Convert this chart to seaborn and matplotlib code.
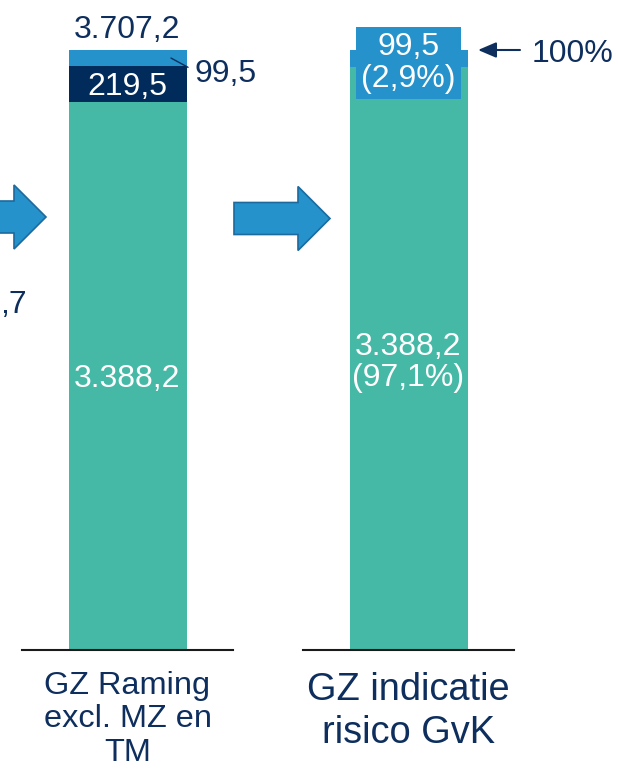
import matplotlib
matplotlib.use("Agg")
import matplotlib.pyplot as plt
from matplotlib.patches import FancyArrow
import pandas as pd
import seaborn as sns

# data
categories = ["GZ Raming\nexcl. MZ en\nTM", "GZ indicatie\nrisico GvK"]
basis = [3388.2, 3388.2]       # green part
extra_mz = [219.5, 0.0]        # navy part (only first bar)
risico = [99.5, 99.5]          # light blue part
prev_label = ",7"              # visible tail of the cropped panel on the left

GREEN = "#45B8A6"
NAVY = "#012B5B"
LBLUE = "#2592CB"
TXT = "#0E2F5E"


def nl(v):
    # dutch number format: 3.388,2
    return f"{v:,.1f}".replace(",", "X").replace(".", ",").replace("X", ".")


sns.set_theme(style="white")
plt.rcParams["font.family"] = ["Liberation Sans", "DejaVu Sans"]

W, H = 618, 770
fig = plt.figure(figsize=(W / 100, H / 100), dpi=100)

# overlay for decorations in pixel units
bg = fig.add_axes([0, 0, 1, 1], zorder=0)
bg.set_xlim(0, W)
bg.set_ylim(H, 0)
bg.axis("off")

bar_w = 118 / 211
ax_bottom = (H - 649.5) / H
ax_h = 599.5 / H
ax1 = fig.add_axes([22 / W, ax_bottom, 211 / W, ax_h], zorder=1)
ax2 = fig.add_axes([303 / W, ax_bottom, 211 / W, ax_h], zorder=1)
ax1.patch.set_visible(False)
ax2.patch.set_visible(False)

df = pd.DataFrame({"cat": categories, "basis": basis, "mz": extra_mz, "risico": risico})
df["lvl2"] = df["basis"] + df["mz"]
df["total"] = df["lvl2"] + df["risico"]

bar_kw = dict(saturation=1, width=bar_w, errorbar=None, linewidth=0, edgecolor="none")
for i, ax in enumerate([ax1, ax2]):
    row = df.iloc[[i]]
    # stack by overdrawing cumulative heights
    sns.barplot(data=row, x="cat", y="total", color=LBLUE, ax=ax, **bar_kw)
    if row["mz"].iloc[0] > 0:
        sns.barplot(data=row, x="cat", y="lvl2", color=NAVY, ax=ax, **bar_kw)
    sns.barplot(data=row, x="cat", y="basis", color=GREEN, ax=ax, **bar_kw)
    ax.set_xlim(-0.5, 0.5)
    ax.set_ylim(0, row["total"].iloc[0])
    ax.set_xlabel("")
    ax.set_ylabel("")
    ax.set_yticks([])
    for s in ["left", "top", "right"]:
        ax.spines[s].set_visible(False)
    ax.spines["bottom"].set_color("#1a1a1a")
    ax.spines["bottom"].set_linewidth(1.5)

# category labels
ax1.set_xticks([0])
ax1.set_xticklabels([categories[0]], fontsize=23.4, color=TXT, linespacing=1.15)
ax1.tick_params(axis="x", length=0, pad=15.5)
ax2.set_xticks([0])
ax2.set_xticklabels([categories[1]], fontsize=27.4, color=TXT, linespacing=1.25)
ax2.tick_params(axis="x", length=0, pad=16.5)

FS = 23
# first bar labels
r = df.iloc[0]
ax1.text(0, r["basis"] / 2, nl(r["basis"]), color="white", fontsize=FS,
         ha="center", va="center_baseline")
ax1.text(0, r["basis"] + r["mz"] / 2, nl(r["mz"]), color="white", fontsize=FS,
         ha="center", va="center_baseline")
ax1.annotate(nl(r["total"]), xy=(0, r["total"]), xytext=(0, 8.6),
             textcoords="offset points", ha="center", va="baseline",
             color=TXT, fontsize=FS)
ax1.annotate(nl(r["risico"]), xy=(0.206, r["lvl2"] + r["risico"] / 2),
             xytext=(17.3, -17.3), textcoords="offset points",
             ha="left", va="baseline", color=TXT, fontsize=FS,
             arrowprops=dict(arrowstyle="-", color=TXT, lw=1.0,
                             relpos=(0, 0.6), shrinkA=3, shrinkB=0))

# second bar labels
r = df.iloc[1]
tot = r["total"]
ax2.text(0, r["basis"] / 2,
         f"{nl(r['basis'])}\n({nl(r['basis'] / tot * 100)}%)",
         color="white", fontsize=FS, ha="center", va="center_baseline",
         linespacing=1.07)
ax2.text(0, r["basis"] + r["risico"] / 2,
         f"{nl(r['risico'])}\n({nl(r['risico'] / tot * 100)}%)",
         color="white", fontsize=FS, ha="center", va="center_baseline",
         linespacing=1.07,
         bbox=dict(boxstyle="square,pad=0.17", fc=LBLUE, ec="none"))
# 100% marker: horizontal arrow pointing at the top of the bar
tip = (bar_w / 2 + 0.05, tot)
ax2.annotate("", xy=tip, xytext=(30.2, 0), textcoords="offset points",
             arrowprops=dict(arrowstyle="-|>,head_length=1.1,head_width=0.47",
                             color=TXT, lw=1.5, mutation_scale=10,
                             shrinkA=0, shrinkB=0))
ax2.annotate("100%", xy=tip, xytext=(38.9, 0), textcoords="offset points",
             ha="left", va="center_baseline", color=TXT, fontsize=FS)

# block arrows between panels
for x0, yc in [(-50, 217), (234, 218.5)]:
    bg.add_patch(FancyArrow(x0, yc, 96, 0, width=32, head_width=64, head_length=32,
                            length_includes_head=True, fc=LBLUE, ec="#1C6A9E", lw=1.2))

# cut-off label of the previous panel
bg.text(0, 313, prev_label, ha="left", va="baseline", color=TXT, fontsize=FS)

fig.savefig("out.png", dpi=100)
